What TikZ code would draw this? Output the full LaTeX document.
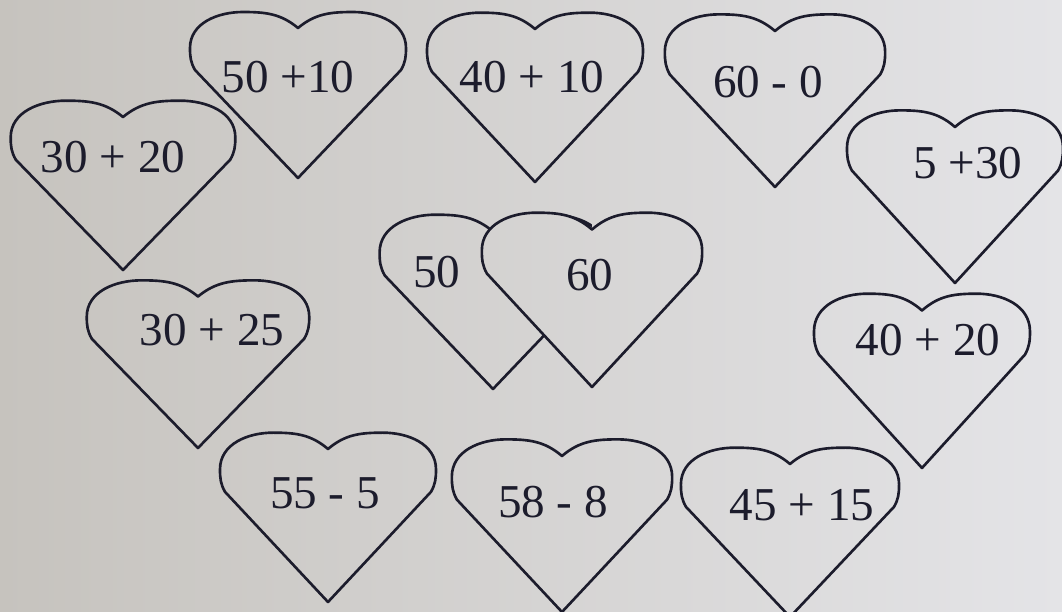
\documentclass[tikz,border=0pt]{standalone}
\usepackage{fontspec}
\setmainfont{Liberation Serif}
\definecolor{paper}{RGB}{228,228,231}
\definecolor{papermid}{RGB}{222,222,224}
\definecolor{paperdark}{RGB}{198,195,190}
\definecolor{ink}{RGB}{28,28,44}
\tikzset{
  heartline/.style={draw=ink, line width=0.75pt, line join=round},
  sum/.style={text=ink, font=\fontsize{13.4}{16}\selectfont, inner sep=0pt},
  pics/heart/.style={code={
    \path[heartline, pic actions] (0,0) -- (-103,-108)
      to[out=120,in=270] (-108,-130) to[out=90,in=180] (-55,-166)
      to[out=0,in=140] (0,-150) to[out=40,in=180] (55,-166)
      to[out=0,in=90] (108,-130) to[out=270,in=60] (103,-108) -- cycle;
  }}
}
\begin{document}
\begin{tikzpicture}[x=0.01cm, y=-0.01cm]
  \useasboundingbox (0,0) rectangle (1062,612);
  \shade[left color=paperdark, middle color=papermid, right color=paper] (0,0) rectangle (1062,612);
  % top row
  \pic (h1) at (298,178) {heart};
  \pic[xscale=1.0, yscale=1.02] (h2) at (535,182) {heart};
  \pic[xscale=1.02, yscale=1.04] (h3) at (775,187) {heart};
  \node[sum] (t1) at (288,77) {50 +10};
  \node[sum] (t2) at (532,77) {40 + 10};
  \node[sum] (t3) at (768,82) {60 - 0};
  % second row
  \pic[xscale=1.04, yscale=1.02] (h4) at (123,270) {heart};
  \pic[yscale=1.04] (h5) at (955,283) {heart};
  \node[sum] (t4) at (113,157) {30 + 20};
  \node[sum] (t5) at (968,163) {5 +30};
  % the two joined hearts: the 50 heart stops at the outline of the 60 heart
  \begin{scope}
    \clip (300,150) -- (592,150) -- (592,229.5)
      to[out=140,in=0] (535.9,212.7) to[out=180,in=90] (481.8,250.5)
      to[out=270,in=120] (486.9,273.6) -- (592,387) -- (592,420)
      -- (300,420) -- cycle;
    \pic[xscale=1.05, yscale=1.05] (h6) at (493,389) {heart};
  \end{scope}
  \pic[xscale=1.02, yscale=1.05] (h7) at (592,387) {heart};
  \node[sum] (t6) at (437,272) {50};
  \node[sum] (t7) at (590,275) {60};
  % third row
  \pic[xscale=1.03, yscale=1.01] (h8) at (198,448) {heart};
  \pic[yscale=1.05] (h9) at (922,468) {heart};
  \node[sum] (t8) at (212,330) {30 + 25};
  \node[sum] (t9) at (928,340) {40 + 20};
  % bottom row
  \pic[yscale=1.02] (h10) at (328,602) {heart};
  \pic[xscale=1.02, yscale=1.04] (h11) at (562,612) {heart};
  \pic[xscale=1.01, yscale=1.02] (h12) at (790,617) {heart};
  \node[sum] (t10) at (325,493) {55 - 5};
  \node[sum] (t11) at (553,502) {58 - 8};
  \node[sum] (t12) at (802,505) {45 + 15};
\end{tikzpicture}
\end{document}
